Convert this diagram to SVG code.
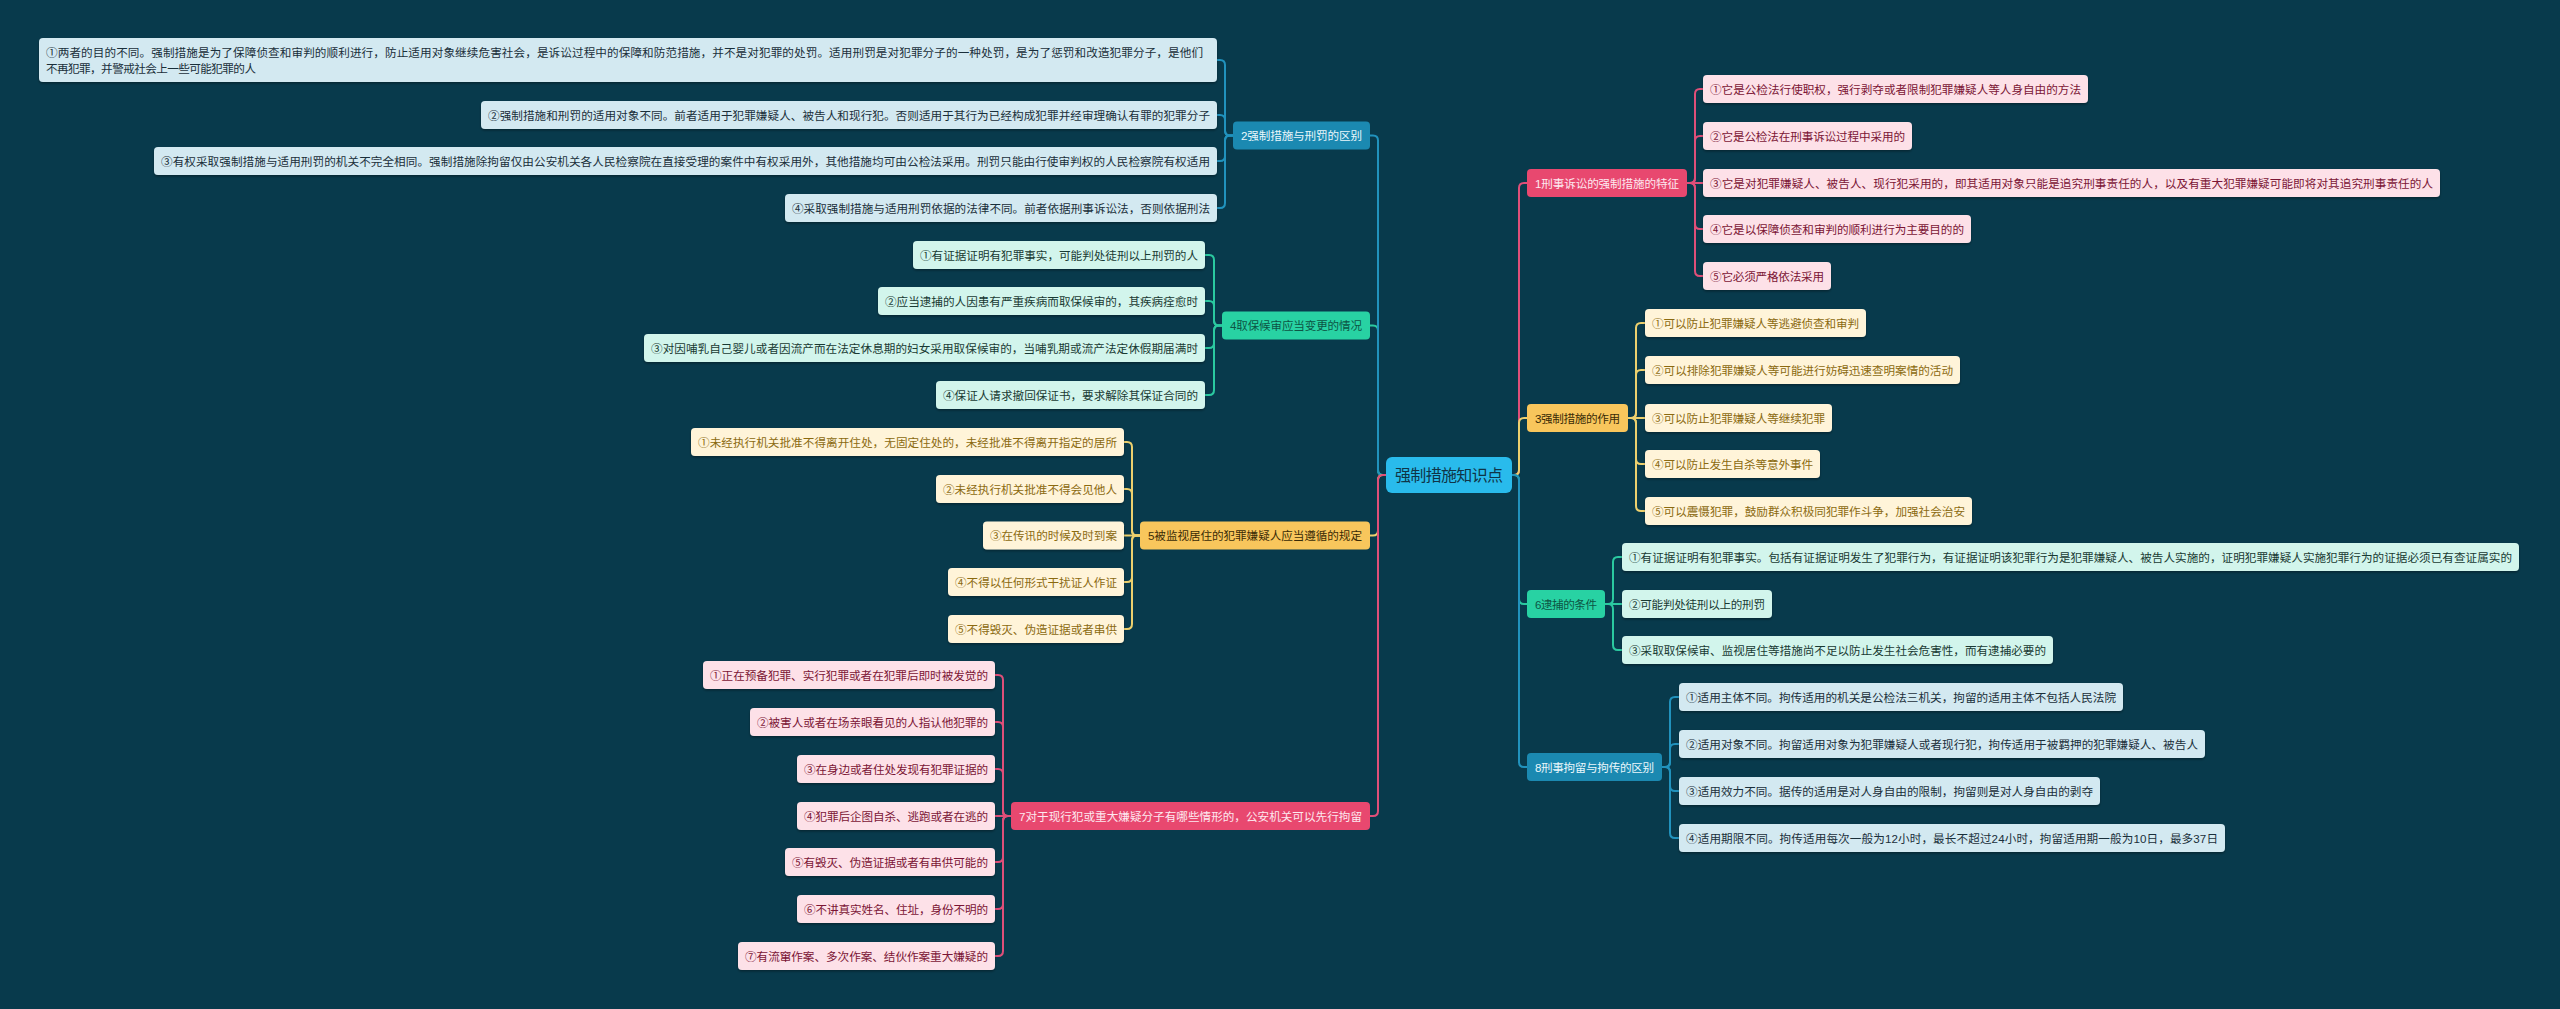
<svg xmlns="http://www.w3.org/2000/svg" width="2560" height="1009" viewBox="0 0 2560 1009">
<defs>
<filter id="sh" x="-5%" y="-20%" width="110%" height="150%">
<feDropShadow dx="0" dy="1.5" stdDeviation="0.8" flood-color="#000" flood-opacity="0.35"/>
</filter>
<style>
text{font-family:'Liberation Sans','Noto Sans CJK SC',sans-serif;font-size:11.6px}
.c{fill:none;stroke-width:2;stroke-linecap:round}
.cb{stroke:#2192bd}.ct{stroke:#2bc9a0}.cy{stroke:#ecd06e}.cp{stroke:#df4f79}
.bb rect{fill:#1b89b1}.bb text{fill:#eaf7fb}
.bt rect{fill:#28d2a3}.bt text{fill:#0d5545}
.by rect{fill:#f8c65c}.by text{fill:#3a2b06}
.bp rect{fill:#e8486f}.bp text{fill:#fde9ef}
.kb rect{fill:#d3e9f1;filter:url(#sh)}.kb text{fill:#1a2f3a}
.kt rect{fill:#d2f5ec;filter:url(#sh)}.kt text{fill:#193a33}
.ky rect{fill:#fff4d9;filter:url(#sh)}.ky text{fill:#8b6a10}
.kp rect{fill:#fde1e8;filter:url(#sh)}.kp text{fill:#7b1535}
.m{text-anchor:middle}
</style>
</defs>
<rect width="2560" height="1009" fill="#083a4c"/>

<g id="connectors">
<!-- root left -->
<path class="c ct" d="M1386 475 H1383 Q1378 475 1378 470 V330.5 Q1378 325.5 1373 325.5 H1370"/>
<path class="c cb" d="M1386 475 H1383 Q1378 475 1378 470 V140.5 Q1378 135.5 1373 135.5 H1370"/>
<path class="c cy" d="M1386 475 H1383 Q1378 475 1378 480 V530.5 Q1378 535.5 1373 535.5 H1370"/>
<path class="c cp" d="M1386 475 H1383 Q1378 475 1378 480 V811 Q1378 816 1373 816 H1370"/>
<!-- root right -->
<path class="c cp" d="M1512 475 H1514 Q1519 475 1519 470 V188 Q1519 183 1524 183 H1527"/>
<path class="c cy" d="M1512 475 H1514 Q1519 475 1519 470 V423 Q1519 418 1524 418 H1527"/>
<path class="c ct" d="M1512 475 H1514 Q1519 475 1519 480 V599 Q1519 604 1524 604 H1527"/>
<path class="c cb" d="M1512 475 H1514 Q1519 475 1519 480 V762 Q1519 767 1524 767 H1527"/>
<!-- N2 children -->
<path class="c cb" d="M1233 135.5 H1230 Q1225 135.5 1225 130.5 V65 Q1225 60 1220 60 H1217"/>
<path class="c cb" d="M1233 135.5 H1230 Q1225 135.5 1225 130.5 V120 Q1225 115 1220 115 H1217"/>
<path class="c cb" d="M1233 135.5 H1230 Q1225 135.5 1225 140.5 V156 Q1225 161 1220 161 H1217"/>
<path class="c cb" d="M1233 135.5 H1230 Q1225 135.5 1225 140.5 V203 Q1225 208 1220 208 H1217"/>
<!-- N4 children -->
<path class="c ct" d="M1222 325.5 H1219 Q1214 325.5 1214 320.5 V260 Q1214 255 1209 255 H1205"/>
<path class="c ct" d="M1222 325.5 H1219 Q1214 325.5 1214 320.5 V306 Q1214 301 1209 301 H1205"/>
<path class="c ct" d="M1222 325.5 H1219 Q1214 325.5 1214 330.5 V343 Q1214 348 1209 348 H1205"/>
<path class="c ct" d="M1222 325.5 H1219 Q1214 325.5 1214 330.5 V390 Q1214 395 1209 395 H1205"/>
<!-- N5 children -->
<path class="c cy" d="M1140 535.5 H1137 Q1132 535.5 1132 530.5 V447 Q1132 442 1127 442 H1124"/>
<path class="c cy" d="M1140 535.5 H1137 Q1132 535.5 1132 530.5 V494 Q1132 489 1127 489 H1124"/>
<path class="c cy" d="M1140 535.5 H1124"/>
<path class="c cy" d="M1140 535.5 H1137 Q1132 535.5 1132 540.5 V577 Q1132 582 1127 582 H1124"/>
<path class="c cy" d="M1140 535.5 H1137 Q1132 535.5 1132 540.5 V624 Q1132 629 1127 629 H1124"/>
<!-- N7 children -->
<path class="c cp" d="M1011 816 H1008 Q1003 816 1003 811 V680 Q1003 675 998 675 H995"/>
<path class="c cp" d="M1011 816 H1008 Q1003 816 1003 811 V727 Q1003 722 998 722 H995"/>
<path class="c cp" d="M1011 816 H1008 Q1003 816 1003 811 V774 Q1003 769 998 769 H995"/>
<path class="c cp" d="M1011 816 H995"/>
<path class="c cp" d="M1011 816 H1008 Q1003 816 1003 821 V857 Q1003 862 998 862 H995"/>
<path class="c cp" d="M1011 816 H1008 Q1003 816 1003 821 V904 Q1003 909 998 909 H995"/>
<path class="c cp" d="M1011 816 H1008 Q1003 816 1003 821 V951 Q1003 956 998 956 H995"/>
<!-- N1 children -->
<path class="c cp" d="M1687 183 H1690 Q1695 183 1695 178 V94 Q1695 89 1700 89 H1703"/>
<path class="c cp" d="M1687 183 H1690 Q1695 183 1695 178 V141 Q1695 136 1700 136 H1703"/>
<path class="c cp" d="M1687 183 H1703"/>
<path class="c cp" d="M1687 183 H1690 Q1695 183 1695 188 V224 Q1695 229 1700 229 H1703"/>
<path class="c cp" d="M1687 183 H1690 Q1695 183 1695 188 V271 Q1695 276 1700 276 H1703"/>
<!-- N3 children -->
<path class="c cy" d="M1628 418 H1631 Q1636 418 1636 413 V328 Q1636 323 1641 323 H1645"/>
<path class="c cy" d="M1628 418 H1631 Q1636 418 1636 413 V375 Q1636 370 1641 370 H1645"/>
<path class="c cy" d="M1628 418 H1645"/>
<path class="c cy" d="M1628 418 H1631 Q1636 418 1636 423 V459 Q1636 464 1641 464 H1645"/>
<path class="c cy" d="M1628 418 H1631 Q1636 418 1636 423 V506 Q1636 511 1641 511 H1645"/>
<!-- N6 children -->
<path class="c ct" d="M1605 604 H1608 Q1613 604 1613 599 V562 Q1613 557 1618 557 H1622"/>
<path class="c ct" d="M1605 604 H1622"/>
<path class="c ct" d="M1605 604 H1608 Q1613 604 1613 609 V645 Q1613 650 1618 650 H1622"/>
<!-- N8 children -->
<path class="c cb" d="M1662 767 H1665 Q1670 767 1670 762 V702 Q1670 697 1675 697 H1679"/>
<path class="c cb" d="M1662 767 H1665 Q1670 767 1670 762 V749 Q1670 744 1675 744 H1679"/>
<path class="c cb" d="M1662 767 H1665 Q1670 767 1670 772 V786 Q1670 791 1675 791 H1679"/>
<path class="c cb" d="M1662 767 H1665 Q1670 767 1670 772 V833 Q1670 838 1675 838 H1679"/>
</g>

<g id="root">
<rect x="1386" y="457" width="126" height="36" rx="6" fill="#29bbec"/>
<text x="1449" y="481" class="m" style="font-size:16px;fill:#0f3447" textLength="108">强制措施知识点</text>
</g>

<!-- Right branches -->
<g id="n1" class="bp"><rect x="1527" y="169" width="160" height="28" rx="4"/><text x="1607" y="187.5" class="m" textLength="144">1刑事诉讼的强制措施的特征</text></g>
<g id="n1-1" class="kp"><rect x="1703" y="75" width="385" height="28" rx="4"/><text x="1710" y="93.5" textLength="371">①它是公检法行使职权，强行剥夺或者限制犯罪嫌疑人等人身自由的方法</text></g>
<g id="n1-2" class="kp"><rect x="1703" y="122" width="209" height="28" rx="4"/><text x="1710" y="140.5" textLength="195">②它是公检法在刑事诉讼过程中采用的</text></g>
<g id="n1-3" class="kp"><rect x="1703" y="169" width="737" height="28" rx="4"/><text x="1710" y="187.5" textLength="723">③它是对犯罪嫌疑人、被告人、现行犯采用的，即其适用对象只能是追究刑事责任的人，以及有重大犯罪嫌疑可能即将对其追究刑事责任的人</text></g>
<g id="n1-4" class="kp"><rect x="1703" y="215" width="268" height="28" rx="4"/><text x="1710" y="233.5" textLength="254">④它是以保障侦查和审判的顺利进行为主要目的的</text></g>
<g id="n1-5" class="kp"><rect x="1703" y="262" width="128" height="28" rx="4"/><text x="1710" y="280.5" textLength="114">⑤它必须严格依法采用</text></g>

<g id="n3" class="by"><rect x="1527" y="404" width="101" height="28" rx="4"/><text x="1577.5" y="422.5" class="m" textLength="85">3强制措施的作用</text></g>
<g id="n3-1" class="ky"><rect x="1645" y="309" width="221" height="28" rx="4"/><text x="1652" y="327.5" textLength="207">①可以防止犯罪嫌疑人等逃避侦查和审判</text></g>
<g id="n3-2" class="ky"><rect x="1645" y="356" width="315" height="28" rx="4"/><text x="1652" y="374.5" textLength="301">②可以排除犯罪嫌疑人等可能进行妨碍迅速查明案情的活动</text></g>
<g id="n3-3" class="ky"><rect x="1645" y="404" width="187" height="28" rx="4"/><text x="1652" y="422.5" textLength="173">③可以防止犯罪嫌疑人等继续犯罪</text></g>
<g id="n3-4" class="ky"><rect x="1645" y="450" width="175" height="28" rx="4"/><text x="1652" y="468.5" textLength="161">④可以防止发生自杀等意外事件</text></g>
<g id="n3-5" class="ky"><rect x="1645" y="497" width="327" height="28" rx="4"/><text x="1652" y="515.5" textLength="313">⑤可以震慑犯罪，鼓励群众积极同犯罪作斗争，加强社会治安</text></g>

<g id="n6" class="bt"><rect x="1527" y="590" width="78" height="28" rx="4"/><text x="1566" y="608.5" class="m" textLength="62">6逮捕的条件</text></g>
<g id="n6-1" class="kt"><rect x="1622" y="543" width="897" height="28" rx="4"/><text x="1629" y="561.5" textLength="883">①有证据证明有犯罪事实。包括有证据证明发生了犯罪行为，有证据证明该犯罪行为是犯罪嫌疑人、被告人实施的，证明犯罪嫌疑人实施犯罪行为的证据必须已有查证属实的</text></g>
<g id="n6-2" class="kt"><rect x="1622" y="590" width="150" height="28" rx="4"/><text x="1629" y="608.5" textLength="136">②可能判处徒刑以上的刑罚</text></g>
<g id="n6-3" class="kt"><rect x="1622" y="636" width="431" height="28" rx="4"/><text x="1629" y="654.5" textLength="417">③采取取保候审、监视居住等措施尚不足以防止发生社会危害性，而有逮捕必要的</text></g>

<g id="n8" class="bb"><rect x="1527" y="753" width="135" height="28" rx="4"/><text x="1594.5" y="771.5" class="m" textLength="119">8刑事拘留与拘传的区别</text></g>
<g id="n8-1" class="kb"><rect x="1679" y="683" width="444" height="28" rx="4"/><text x="1686" y="701.5" textLength="430">①适用主体不同。拘传适用的机关是公检法三机关，拘留的适用主体不包括人民法院</text></g>
<g id="n8-2" class="kb"><rect x="1679" y="730" width="526" height="28" rx="4"/><text x="1686" y="748.5" textLength="512">②适用对象不同。拘留适用对象为犯罪嫌疑人或者现行犯，拘传适用于被羁押的犯罪嫌疑人、被告人</text></g>
<g id="n8-3" class="kb"><rect x="1679" y="777" width="421" height="28" rx="4"/><text x="1686" y="795.5" textLength="407">③适用效力不同。据传的适用是对人身自由的限制，拘留则是对人身自由的剥夺</text></g>
<g id="n8-4" class="kb"><rect x="1679" y="824" width="546" height="28" rx="4"/><text x="1686" y="842.5" textLength="532">④适用期限不同。拘传适用每次一般为12小时，最长不超过24小时，拘留适用期一般为10日，最多37日</text></g>

<!-- Left branches -->
<g id="n2" class="bb"><rect x="1233" y="121.5" width="137" height="28" rx="4"/><text x="1301.5" y="140" class="m" textLength="121">2强制措施与刑罚的区别</text></g>
<g id="n2-1" class="kb"><rect x="39" y="38" width="1178" height="44" rx="4"/><text x="46" y="57" textLength="1157">①两者的目的不同。强制措施是为了保障侦查和审判的顺利进行，防止适用对象继续危害社会，是诉讼过程中的保障和防范措施，并不是对犯罪的处罚。适用刑罚是对犯罪分子的一种处罚，是为了惩罚和改造犯罪分子，是他们</text><text x="46" y="73" textLength="210">不再犯罪，并警戒社会上一些可能犯罪的人</text></g>
<g id="n2-2" class="kb"><rect x="481" y="101" width="736" height="28" rx="4"/><text x="488" y="119.5" textLength="722">②强制措施和刑罚的适用对象不同。前者适用于犯罪嫌疑人、被告人和现行犯。否则适用于其行为已经构成犯罪并经审理确认有罪的犯罪分子</text></g>
<g id="n2-3" class="kb"><rect x="154" y="147" width="1063" height="28" rx="4"/><text x="161" y="165.5" textLength="1049">③有权采取强制措施与适用刑罚的机关不完全相同。强制措施除拘留仅由公安机关各人民检察院在直接受理的案件中有权采用外，其他措施均可由公检法采用。刑罚只能由行使审判权的人民检察院有权适用</text></g>
<g id="n2-4" class="kb"><rect x="785" y="194" width="432" height="28" rx="4"/><text x="792" y="212.5" textLength="418">④采取强制措施与适用刑罚依据的法律不同。前者依据刑事诉讼法，否则依据刑法</text></g>

<g id="n4" class="bt"><rect x="1222" y="311.5" width="148" height="28" rx="4"/><text x="1296" y="330" class="m" textLength="132">4取保候审应当变更的情况</text></g>
<g id="n4-1" class="kt"><rect x="913" y="241" width="292" height="28" rx="4"/><text x="920" y="259.5" textLength="278">①有证据证明有犯罪事实，可能判处徒刑以上刑罚的人</text></g>
<g id="n4-2" class="kt"><rect x="878" y="287" width="327" height="28" rx="4"/><text x="885" y="305.5" textLength="313">②应当逮捕的人因患有严重疾病而取保候审的，其疾病痊愈时</text></g>
<g id="n4-3" class="kt"><rect x="644" y="334" width="561" height="28" rx="4"/><text x="651" y="352.5" textLength="547">③对因哺乳自己婴儿或者因流产而在法定休息期的妇女采用取保候审的，当哺乳期或流产法定休假期届满时</text></g>
<g id="n4-4" class="kt"><rect x="936" y="381" width="269" height="28" rx="4"/><text x="943" y="399.5" textLength="255">④保证人请求撤回保证书，要求解除其保证合同的</text></g>

<g id="n5" class="by"><rect x="1140" y="521.5" width="230" height="28" rx="4"/><text x="1255" y="540" class="m" textLength="214">5被监视居住的犯罪嫌疑人应当遵循的规定</text></g>
<g id="n5-1" class="ky"><rect x="691" y="428" width="433" height="28" rx="4"/><text x="698" y="446.5" textLength="419">①未经执行机关批准不得离开住处，无固定住处的，未经批准不得离开指定的居所</text></g>
<g id="n5-2" class="ky"><rect x="936" y="475" width="188" height="28" rx="4"/><text x="943" y="493.5" textLength="174">②未经执行机关批准不得会见他人</text></g>
<g id="n5-3" class="ky"><rect x="983" y="521.5" width="141" height="28" rx="4"/><text x="990" y="540" textLength="127">③在传讯的时候及时到案</text></g>
<g id="n5-4" class="ky"><rect x="948" y="568" width="176" height="28" rx="4"/><text x="955" y="586.5" textLength="162">④不得以任何形式干扰证人作证</text></g>
<g id="n5-5" class="ky"><rect x="948" y="615" width="176" height="28" rx="4"/><text x="955" y="633.5" textLength="162">⑤不得毁灭、伪造证据或者串供</text></g>

<g id="n7" class="bp"><rect x="1011" y="802" width="359" height="28" rx="4"/><text x="1190.5" y="820.5" class="m" textLength="343">7对于现行犯或重大嫌疑分子有哪些情形的，公安机关可以先行拘留</text></g>
<g id="n7-1" class="kp"><rect x="703" y="661" width="292" height="28" rx="4"/><text x="710" y="679.5" textLength="278">①正在预备犯罪、实行犯罪或者在犯罪后即时被发觉的</text></g>
<g id="n7-2" class="kp"><rect x="750" y="708" width="245" height="28" rx="4"/><text x="757" y="726.5" textLength="231">②被害人或者在场亲眼看见的人指认他犯罪的</text></g>
<g id="n7-3" class="kp"><rect x="797" y="755" width="198" height="28" rx="4"/><text x="804" y="773.5" textLength="184">③在身边或者住处发现有犯罪证据的</text></g>
<g id="n7-4" class="kp"><rect x="797" y="802" width="198" height="28" rx="4"/><text x="804" y="820.5" textLength="184">④犯罪后企图自杀、逃跑或者在逃的</text></g>
<g id="n7-5" class="kp"><rect x="785" y="848" width="210" height="28" rx="4"/><text x="792" y="866.5" textLength="196">⑤有毁灭、伪造证据或者有串供可能的</text></g>
<g id="n7-6" class="kp"><rect x="797" y="895" width="198" height="28" rx="4"/><text x="804" y="913.5" textLength="184">⑥不讲真实姓名、住址，身份不明的</text></g>
<g id="n7-7" class="kp"><rect x="738" y="942" width="257" height="28" rx="4"/><text x="745" y="960.5" textLength="243">⑦有流窜作案、多次作案、结伙作案重大嫌疑的</text></g>
</svg>
